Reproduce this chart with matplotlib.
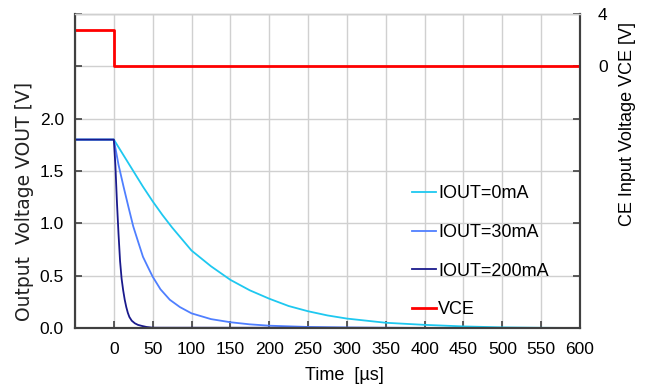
import numpy as np
import matplotlib
matplotlib.use("Agg")
import matplotlib.pyplot as plt

plt.rcParams['font.family'] = ['Liberation Sans', 'DejaVu Sans']

# values
t_0ma = [-50, 0, 12.5, 25, 37.5, 50, 62.5, 75, 87.5, 100, 125, 150, 175, 200, 225, 250,
         275, 300, 325, 350, 375, 400, 450, 500, 550, 600]
v_0ma = [1.8, 1.8, 1.65, 1.5, 1.35, 1.21, 1.08, 0.96, 0.85, 0.74, 0.59, 0.46, 0.36, 0.28, 0.21, 0.16,
         0.12, 0.09, 0.07, 0.05, 0.04, 0.03, 0.015, 0.006, 0.002, 0.0]

t_30ma = [-50, 0, 6, 12.5, 19, 25, 31, 37.5, 44, 50, 60, 72, 85, 100, 125, 150, 175, 200,
          250, 300, 400, 600]
v_30ma = [1.8, 1.8, 1.56, 1.35, 1.15, 0.97, 0.83, 0.68, 0.58, 0.49, 0.37, 0.27, 0.2, 0.14, 0.085, 0.055, 0.035, 0.022,
          0.01, 0.005, 0.0, 0.0]

t_200ma = [-50, 0, 2, 4, 6, 8, 10, 12, 14, 16, 18, 20, 23, 27, 31, 36, 42, 50, 600]
v_200ma = [1.8, 1.8, 1.55, 1.2, 0.9, 0.64, 0.47, 0.36, 0.27, 0.2, 0.145, 0.105, 0.07, 0.045, 0.03, 0.02, 0.01, 0.003, 0.0]

t_vce = [-50, 0, 0, 600]
v_vce = [2.75, 2.75, 0, 0]

xticks = [0, 50, 100, 150, 200, 250, 300, 350, 400, 450, 500, 550, 600]
yticks = [0.0, 0.5, 1.0, 1.5, 2.0]

fig = plt.figure(figsize=(6.51, 3.90), dpi=100)
ax = fig.add_axes([75/651, 62/390, 505/651, 314/390])
ax2 = ax.twinx()

spine_c = '#404040'
grid_c = '#d0d0d0'

l1, = ax.plot(t_0ma, v_0ma, color='#1ec8f0', lw=1.3, label='IOUT=0mA')
l2, = ax.plot(t_30ma, v_30ma, color='#4f7fff', lw=1.3, label='IOUT=30mA')
l3, = ax.plot(t_200ma, v_200ma, color='#1a1a8c', lw=1.3, label='IOUT=200mA')
l4, = ax2.plot(t_vce, v_vce, color='#ff0000', lw=2, label='VCE')

ax.set_xlim(-50, 600)
ax.set_ylim(0, 3.0)
ax2.set_ylim(-20, 4)

ax.set_xticks(np.arange(-50, 601, 50))
ax.set_xticklabels([''] + [str(v) for v in xticks])
ax.set_yticks(np.arange(0, 3.01, 0.5))
ax.set_yticklabels(['%.1f' % v for v in yticks] + ['', ''])
ax2.set_yticks(np.arange(-20, 4.01, 4))
ax2.set_yticklabels(['', '', '', '', '', '0', '4'])

ax.grid(True, color=grid_c, lw=1)
ax.set_axisbelow(True)
for a in (ax, ax2):
    a.tick_params(direction='in', length=5, width=1.2, color=spine_c, labelsize=12.5)
    for s in ('left', 'right', 'bottom'):
        a.spines[s].set_color(spine_c)
        a.spines[s].set_linewidth(1.5)
    a.spines['top'].set_color(grid_c)
    a.spines['top'].set_linewidth(1)
ax.tick_params(axis='x', pad=10)
ax.tick_params(axis='y', pad=8)
ax2.tick_params(axis='y', pad=13)

ax2.legend(handles=[l1, l2, l3, l4], loc='upper left', bbox_to_anchor=(330/505, 1 - 164/314),
           frameon=False, fontsize=13, handlelength=1.3, handletextpad=0.15, labelspacing=1.2,
           borderaxespad=0)

fig.text(25/651, 1 - 201/390, 'Output  Voltage VOUT [V]', rotation=90, ha='center', va='center',
         fontsize=13.5, family='DejaVu Sans', color='#222222')
fig.text(628/651, 1 - 124/390, 'CE Input Voltage VCE [V]', rotation=90, ha='center', va='center', fontsize=13)
fig.text(344/651, 1 - 376/390, 'Time  [µs]', ha='center', va='center', fontsize=13)

fig.savefig('out.png', dpi=100)
